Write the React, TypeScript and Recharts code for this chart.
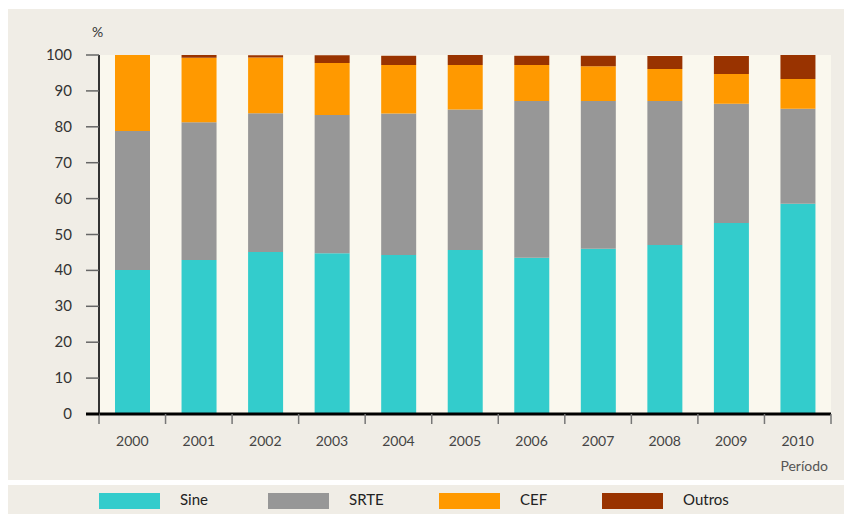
import React from "react";
import { BarChart, Bar, XAxis, YAxis, CartesianGrid } from "recharts";

const YEARS = ["2000", "2001", "2002", "2003", "2004", "2005", "2006", "2007", "2008", "2009", "2010"];
const SINE = [40.1, 42.9, 45.1, 44.8, 44.3, 45.7, 43.5, 46.0, 47.1, 53.2, 58.6];
const SRTE = [38.7, 38.4, 38.7, 38.5, 39.4, 39.1, 43.7, 41.2, 40.1, 33.2, 26.4];
const CEF = [21.2, 17.9, 15.5, 14.5, 13.5, 12.4, 10.0, 9.7, 8.9, 8.3, 8.3];
const OUTROS = [0, 0.8, 0.6, 2.1, 2.6, 2.8, 2.6, 2.9, 3.6, 5.0, 6.7];
const Y_TICKS = [0, 10, 20, 30, 40, 50, 60, 70, 80, 90, 100];

const SERIES = [
  { key: "sine", name: "Sine", color: "#33cccc" },
  { key: "srte", name: "SRTE", color: "#979797" },
  { key: "cef", name: "CEF", color: "#ff9900" },
  { key: "outros", name: "Outros", color: "#993300" },
];

const data = YEARS.map((year, i) => ({
  year,
  sine: SINE[i],
  srte: SRTE[i],
  cef: CEF[i],
  outros: OUTROS[i],
}));

const W = 844;
const H = 471;
const M = { top: 46, right: 21, left: 0, bottom: 0 };
const Y_W = 91;
const X_H = 66;
const BAND = (W - M.right - Y_W) / YEARS.length;
const FONT = "Lato, 'Open Sans', sans-serif";
const PANEL = "#f0ede6";

function XTick(props: any) {
  const { x, y, payload, index } = props;
  const last = index === YEARS.length - 1;
  return (
    <g>
      <line x1={x - BAND / 2} x2={x - BAND / 2} y1={y} y2={y + 10} stroke="#777" strokeWidth={1.5} />
      {last && <line x1={x + BAND / 2} x2={x + BAND / 2} y1={y} y2={y + 10} stroke="#777" strokeWidth={1.5} />}
      <text x={x} y={y + 32} textAnchor="middle" fontSize={14} fill="#444" fontFamily={FONT}>
        {payload.value}
      </text>
    </g>
  );
}

function YTick(props: any) {
  const { x, y, payload } = props;
  const axisX = x;
  const zero = payload.value === 0;
  return (
    <g>
      <line
        x1={axisX - 13}
        x2={axisX}
        y1={y}
        y2={y}
        stroke={zero ? "#000" : "#666"}
        strokeWidth={zero ? 3 : 1.5}
      />
      <text x={axisX - 27} y={y + 5} textAnchor="end" fontSize={15} fill="#333" fontFamily={FONT}>
        {payload.value}
      </text>
    </g>
  );
}

export default function App() {
  return (
    <div style={{ width: W, fontFamily: FONT }}>
      <div style={{ position: "relative", width: W, height: H, marginTop: 1, background: PANEL }}>
        <div style={{ position: "absolute", left: 84, top: 14, fontSize: 14, color: "#333" }}>%</div>
        <div style={{ position: "absolute", right: 24, top: 448, fontSize: 14, color: "#555" }}>Período</div>
        <BarChart width={W} height={H} data={data} margin={M} barSize={35}>
          <CartesianGrid fill="#faf8ee" stroke="none" horizontal={false} vertical={false} />
          <XAxis
            dataKey="year"
            height={X_H}
            axisLine={{ stroke: "#000", strokeWidth: 3 }}
            tickLine={false}
            tickSize={0}
            tickMargin={0}
            tick={<XTick />}
            interval={0}
          />
          <YAxis
            width={Y_W}
            domain={[0, 100]}
            ticks={Y_TICKS}
            interval={0}
            axisLine={{ stroke: "#333", strokeWidth: 2 }}
            tickLine={false}
            tickSize={0}
            tickMargin={0}
            tick={<YTick />}
          />
          {SERIES.map((s) => (
            <Bar key={s.key} dataKey={s.key} name={s.name} stackId="a" fill={s.color} isAnimationActive={false} />
          ))}
        </BarChart>
      </div>
      <div style={{ position: "relative", width: W, height: 30, marginTop: 5, background: PANEL }}>
        {SERIES.map((s, i) => {
          const left = [91, 260, 431, 594][i];
          return (
            <div key={s.key}>
              <div style={{ position: "absolute", left, top: 8, width: 61, height: 16, background: s.color }} />
              <div style={{ position: "absolute", left: left + 81, top: 5, fontSize: 15, color: "#222" }}>
                {s.name}
              </div>
            </div>
          );
        })}
      </div>
    </div>
  );
}
